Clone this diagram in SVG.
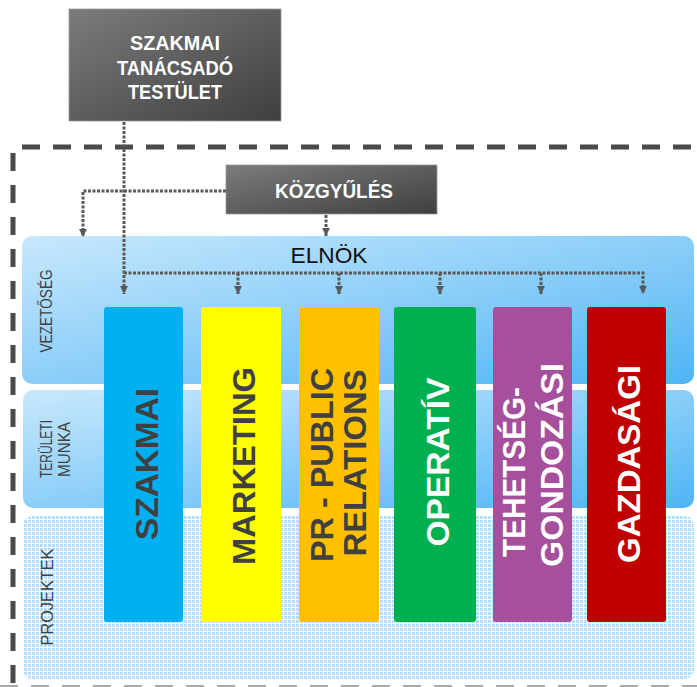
<svg xmlns="http://www.w3.org/2000/svg" width="697" height="687" viewBox="0 0 697 687">
<defs>
<linearGradient id="gBox" x1="0" y1="0" x2="1" y2="1">
<stop offset="0" stop-color="#7c7c7c"/><stop offset="1" stop-color="#3f3f3f"/>
</linearGradient>
<linearGradient id="gBand" x1="0" y1="0" x2="1" y2="1">
<stop offset="0" stop-color="#c8e8fc"/><stop offset="1" stop-color="#50b4f5"/>
</linearGradient>
<pattern id="pGrid" width="4" height="4" patternUnits="userSpaceOnUse">
<rect width="4" height="4" fill="#ffffff"/>
<rect width="3" height="3" fill="#b5dffa"/>
</pattern>
<marker id="arr" viewBox="0 0 10 10" refX="10" refY="5" markerWidth="8" markerHeight="8" markerUnits="userSpaceOnUse" orient="auto">
<path d="M0,0 L10,5 L0,10 z" fill="#595959"/>
</marker>
<style>
.dark{fill:url(#gBox);stroke:#9a9a9a;stroke-width:0.8}
.wt{fill:#fff;font-family:"Liberation Sans",Arial,sans-serif;font-weight:bold;font-size:20px;text-anchor:middle}
.band{fill:url(#gBand)}
.lbl{fill:#404040;font-family:"Liberation Sans",Arial,sans-serif;font-size:16px;text-anchor:middle}
.col{font-family:"Liberation Sans",Arial,sans-serif;font-weight:bold;font-size:32px;text-anchor:middle}
.conn{fill:none;stroke:#595959;stroke-width:3;stroke-dasharray:3 1.5}
</style>
</defs>
<rect width="697" height="687" fill="#ffffff"/>

<g id="frame">
<path d="M13,147 H697" fill="none" stroke="#4a4a4a" stroke-width="5" stroke-dasharray="18 13" stroke-dashoffset="-9"/>
<path d="M13,153 V687" fill="none" stroke="#4a4a4a" stroke-width="5" stroke-dasharray="18 14"/>
<path d="M0,686 H697" fill="none" stroke="#aaaaaa" stroke-width="2" stroke-dasharray="18 13"/>
</g>

<g id="band-vezetoseg">
<rect class="band" x="22" y="236" width="672" height="148" rx="10"/>
<text class="lbl" transform="translate(52,311) rotate(-90)" textLength="83" lengthAdjust="spacingAndGlyphs">VEZETŐSÉG</text>
</g>
<g id="band-teruleti">
<rect class="band" x="23" y="390" width="671" height="118" rx="10"/>
<text class="lbl" transform="translate(52,449) rotate(-90)" textLength="58" lengthAdjust="spacingAndGlyphs">TERÜLETI</text>
<text class="lbl" transform="translate(70,449.5) rotate(-90)" textLength="55" lengthAdjust="spacingAndGlyphs">MUNKA</text>
</g>
<g id="band-projektek">
<rect x="23" y="516" width="671" height="163" rx="9" fill="url(#pGrid)"/>
<text class="lbl" transform="translate(53,597) rotate(-90)" textLength="97" lengthAdjust="spacingAndGlyphs">PROJEKTEK</text>
</g>

<g id="szakmai-tanacsado">
<rect class="dark" x="69" y="9" width="212" height="112"/>
<text class="wt" x="175" y="50" textLength="90" lengthAdjust="spacingAndGlyphs">SZAKMAI</text>
<text class="wt" x="175" y="75" textLength="116" lengthAdjust="spacingAndGlyphs">TANÁCSADÓ</text>
<text class="wt" x="175" y="99" textLength="94" lengthAdjust="spacingAndGlyphs">TESTÜLET</text>
</g>

<g id="kozgyules">
<rect class="dark" x="226" y="165" width="211" height="49"/>
<text class="wt" x="334" y="198" textLength="118" lengthAdjust="spacingAndGlyphs">KÖZGYŰLÉS</text>
</g>

<g id="elnok">
<text x="329" y="263" fill="#111" font-family="'Liberation Sans',Arial,sans-serif" font-size="22" text-anchor="middle" textLength="77" lengthAdjust="spacingAndGlyphs">ELNÖK</text>
</g>

<g id="connectors">
<path class="conn" d="M124,122 V294" marker-end="url(#arr)"/>
<path class="conn" d="M124,273 H643 V294" marker-end="url(#arr)"/>
<path class="conn" d="M238,273 V294" marker-end="url(#arr)"/>
<path class="conn" d="M339,273 V294" marker-end="url(#arr)"/>
<path class="conn" d="M440,273 V294" marker-end="url(#arr)"/>
<path class="conn" d="M541,273 V294" marker-end="url(#arr)"/>
<path class="conn" d="M226,191 H83 V237" marker-end="url(#arr)"/>
<path class="conn" d="M326,215 V236" marker-end="url(#arr)"/>
</g>

<g id="col-szakmai">
<rect x="104" y="307" width="79" height="315" rx="3" fill="#00b0f0"/>
<text class="col" fill="#404040" transform="translate(158,464) rotate(-90)" textLength="152" lengthAdjust="spacingAndGlyphs">SZAKMAI</text>
</g>
<g id="col-marketing">
<rect x="201" y="307" width="80" height="315" rx="3" fill="#ffff00"/>
<text class="col" fill="#404040" transform="translate(255,466) rotate(-90)" textLength="198" lengthAdjust="spacingAndGlyphs">MARKETING</text>
</g>
<g id="col-pr">
<rect x="299" y="307" width="80" height="315" rx="3" fill="#ffc000"/>
<text class="col" fill="#404040" transform="translate(333,465) rotate(-90)" textLength="194" lengthAdjust="spacingAndGlyphs">PR - PUBLIC</text>
<text class="col" fill="#404040" transform="translate(366,463) rotate(-90)" textLength="187" lengthAdjust="spacingAndGlyphs">RELATIONS</text>
</g>
<g id="col-operativ">
<rect x="394" y="307" width="82" height="315" rx="3" fill="#00b050"/>
<text class="col" fill="#ffffff" transform="translate(449,462) rotate(-90)" textLength="169" lengthAdjust="spacingAndGlyphs">OPERATÍV</text>
</g>
<g id="col-tehetseg">
<rect x="493" y="307" width="79" height="315" rx="3" fill="#a64f9c"/>
<text class="col" fill="#ffffff" transform="translate(525,472) rotate(-90)" textLength="170" lengthAdjust="spacingAndGlyphs">TEHETSÉG-</text>
<text class="col" fill="#ffffff" transform="translate(563,465) rotate(-90)" textLength="204" lengthAdjust="spacingAndGlyphs">GONDOZÁSI</text>
</g>
<g id="col-gazdasagi">
<rect x="587" y="307" width="79" height="315" rx="3" fill="#c00000"/>
<text class="col" fill="#ffffff" transform="translate(640,464) rotate(-90)" textLength="198" lengthAdjust="spacingAndGlyphs">GAZDASÁGI</text>
</g>
</svg>
